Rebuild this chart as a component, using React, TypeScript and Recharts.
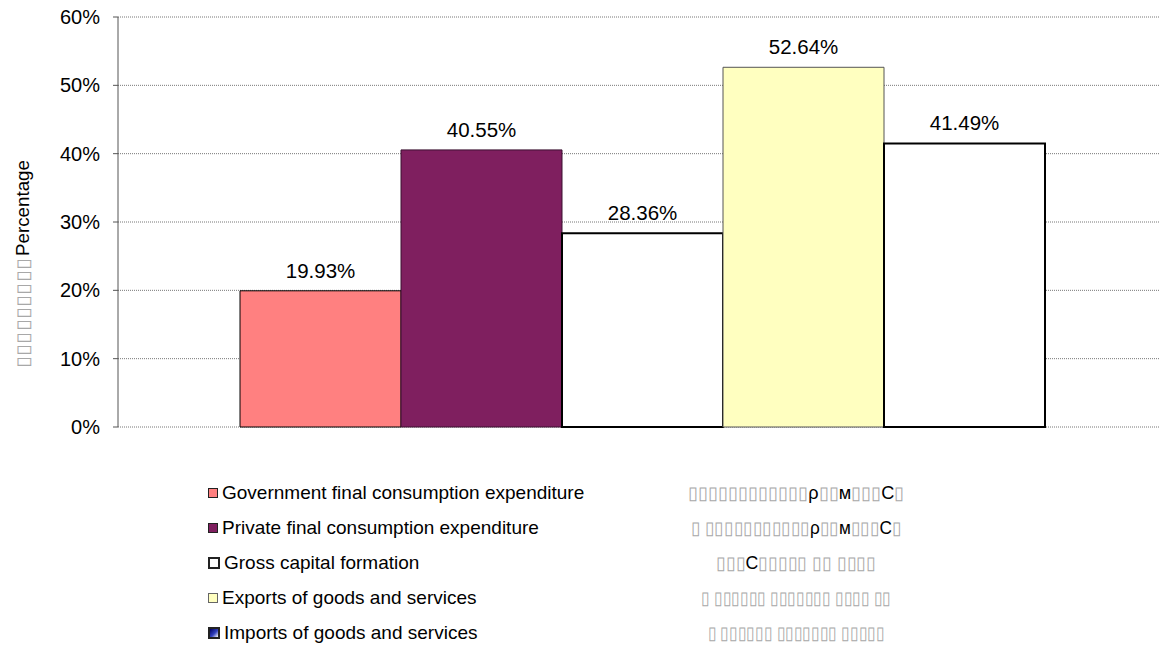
import { Bar, BarChart, CartesianGrid, LabelList, XAxis, YAxis } from "recharts";
import type { FC } from "react";

const seriesKeys = ["gov", "priv", "gross", "exports", "imports"];
const seriesNames = [
  "Government final consumption expenditure",
  "Private final consumption expenditure",
  "Gross capital formation",
  "Exports of goods and services",
  "Imports of goods and services",
];
const seriesValues = [19.93, 40.55, 28.36, 52.64, 41.49];
const yTicks = [0, 10, 20, 30, 40, 50, 60];
// right legend column came out as broken glyphs (tofu) in the original
const garbled = [
  "▯▯▯▯▯▯▯▯▯▯▯▯ρ▯▯м▯▯▯C▯",
  "▯ ▯▯▯▯▯▯▯▯▯▯▯ρ▯▯м▯▯▯C▯",
  "▯▯▯C▯▯▯▯▯ ▯▯ ▯▯▯▯",
  "▯ ▯▯▯▯▯▯ ▯▯▯▯▯▯▯ ▯▯▯▯ ▯▯",
  "▯ ▯▯▯▯▯▯ ▯▯▯▯▯▯▯ ▯▯▯▯▯",
];
const garbledWidth = [217, 211, 160, 190, 177];

const fills = ["#FF8080", "#7F1F5F", "#FFFFFF", "#FFFFC0", "#FFFFFF"];
const strokes = ["#000", "#3a1030", "#000", "#555", "#000"];
const strokeWidths = [1, 1, 2, 1, 2];

const row: Record<string, number | string> = { name: "" };
seriesKeys.forEach((k, i) => {
  row[k] = seriesValues[i];
});
const data = [row];

const font = "'Liberation Sans', Arial, sans-serif";
const tofuColor = "#a8a8a8";

const YLabel: FC<any> = () => (
  <g fontFamily={font} fill="#000">
    <text
      transform="translate(29,368) rotate(-90)"
      textAnchor="start"
      fontSize={18}
      fill={tofuColor}
      textLength={110}
      lengthAdjust="spacingAndGlyphs"
    >
      ▯▯▯▯▯▯▯▯▯
    </text>
    <text
      transform="translate(29,256) rotate(-90)"
      textAnchor="start"
      fontSize={19}
      textLength={96}
      lengthAdjust="spacingAndGlyphs"
    >
      Percentage
    </text>
  </g>
);

const renderGarbled = (s: string) =>
  s.split("").map((ch, j) => (
    <tspan key={j} fill={ch === "▯" ? tofuColor : "#000"}>
      {ch}
    </tspan>
  ));

const App: FC = () => {
  return (
    <div
      style={{
        position: "absolute",
        left: 0,
        top: 0,
        width: 1160,
        height: 647,
        background: "#fff",
        fontFamily: font,
      }}
    >
      <BarChart
        width={1160}
        height={440}
        data={data}
        margin={{ top: 17, right: 0, bottom: 13, left: 0 }}
        barCategoryGap={114}
        barGap={0}
      >
        <CartesianGrid
          vertical={false}
          stroke="#777"
          strokeDasharray="1 1"
        />
        <XAxis dataKey="name" hide padding={{ left: 8, right: 0 }} />
        <YAxis
          width={118}
          domain={[0, 60]}
          ticks={yTicks}
          tickFormatter={(v: number) => `${v}%`}
          tick={{ fontSize: 20, fill: "#000", fontFamily: font }}
          tickMargin={13}
          tickSize={5}
          stroke="#555"
          tickLine={{ stroke: "#555" }}
          label={<YLabel />}
        />
        {seriesKeys.map((k, i) => (
          <Bar
            key={k}
            dataKey={k}
            name={seriesNames[i]}
            fill={fills[i]}
            stroke={strokes[i]}
            strokeWidth={strokeWidths[i]}
            isAnimationActive={false}
          >
            <LabelList
              dataKey={k}
              position="top"
              offset={13}
              formatter={(v: any) => `${Number(v).toFixed(2)}%`}
              style={{ fontSize: 20.5, fill: "#000", fontFamily: font }}
            />
          </Bar>
        ))}
      </BarChart>
      {seriesNames.map((n, i) => (
        <div
          key={n}
          style={{
            position: "absolute",
            left: 208,
            top: 493 + i * 35 - 11,
            height: 22,
            display: "flex",
            alignItems: "center",
            fontSize: 19,
            color: "#000",
            whiteSpace: "nowrap",
          }}
        >
          <span
            style={{
              display: "inline-block",
              width: 8,
              height: 8,
              marginRight: 4,
              background:
                i === 4
                  ? "linear-gradient(135deg, #000060 0%, #3040c0 55%, #ffffff 100%)"
                  : fills[i],
              border: `${i === 2 || i === 4 ? 2 : 1}px solid ${i === 3 ? "#666" : "#222"}`,
            }}
          />
          {n}
        </div>
      ))}
      <svg
        width={1160}
        height={207}
        style={{ position: "absolute", left: 0, top: 440 }}
      >
        {garbled.map((g, i) => (
          <text
            key={i}
            x={796}
            y={53 + i * 35 + 6}
            textAnchor="middle"
            fontFamily={font}
            fontSize={18}
            textLength={garbledWidth[i]}
            lengthAdjust="spacingAndGlyphs"
          >
            {renderGarbled(g)}
          </text>
        ))}
      </svg>
    </div>
  );
};

export default App;
